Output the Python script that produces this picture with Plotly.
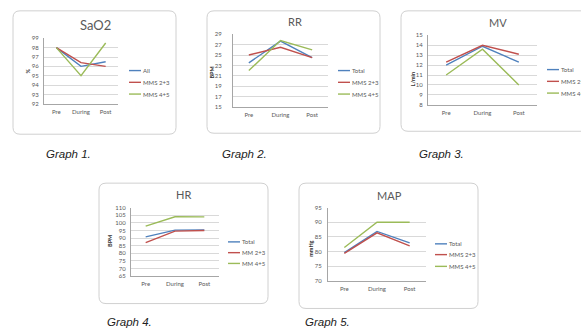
import plotly.graph_objects as go

W, H = 581, 333

# ---- data ----
phases = ["Pre", "During", "Post"]

sao2_all = [98, 96, 96.5]
sao2_mms23 = [98, 96.4, 96]
sao2_mms45 = [98, 95, 98.5]

rr_total = [23.5, 27.7, 24.5]
rr_mms23 = [25, 26.5, 24.5]
rr_mms45 = [22, 27.8, 26]

mv_total = [12, 13.9, 12.3]
mv_mms23 = [12.3, 14, 13.1]
mv_mms45 = [11, 13.6, 10]

hr_total = [90.8, 95.2, 95.4]
hr_mm23 = [87, 94.6, 95]
hr_mm45 = [97.8, 104, 103.9]

map_total = [79.7, 86.9, 83]
map_mms23 = [79.4, 86.4, 82]
map_mms45 = [81.4, 90, 90]

BLUE, RED, GREEN = "#4F81BD", "#C0504D", "#9BBB59"
GREY = "#595959"
FONT = "Lato, 'Open Sans', sans-serif"

# one entry per panel
panels = [
    dict(title="SaO2", ytitle="%", series=[("All", sao2_all), ("MMS 2+3", sao2_mms23), ("MMS 4+5", sao2_mms45)],
         yr=(92, 99), dt=1, plot=(44, 118, 35, 102), box=(13, 176, 7, 133), gap=3,
         ttl=(95, 21, 13), yt=(28, 69), leg=(129, [68, 80, 92]), cap=(44, 153, "Graph 1.")),
    dict(title="RR", ytitle="BPM", series=[("Total", rr_total), ("MMS 2+3", rr_mms23), ("MMS 4+5", rr_mms45)],
         yr=(15, 29), dt=2, plot=(233, 328, 31, 105), box=(207, 380, 7, 132), gap=9,
         ttl=(295, 18, 11), yt=(212, 70), leg=(338, [68, 80, 92]), cap=(220, 153, "Graph 2.")),
    dict(title="MV", ytitle="L/min", series=[("Total", mv_total), ("MMS 2+3", mv_mms23), ("MMS 4+5", mv_mms45)],
         yr=(8, 15), dt=1, plot=(428, 537, 32, 103), box=(401, 620, 7, 130), gap=3,
         ttl=(498, 19, 11), yt=(413, 77), leg=(547, [67, 79, 91]), cap=(417, 153, "Graph 3.")),
    dict(title="HR", ytitle="BPM", series=[("Total", hr_total), ("MM 2+3", hr_mm23), ("MM 4+5", hr_mm45)],
         yr=(65, 110), dt=5, plot=(131, 219, 208, 278), box=(99, 268, 183, 306), gap=3,
         ttl=(183, 195, 11), yt=(110, 242), leg=(228, [243, 254, 265]), cap=(105, 325, "Graph 4.")),
    dict(title="MAP", ytitle="mmHg", series=[("Total", map_total), ("MMS 2+3", map_mms23), ("MMS 4+5", map_mms45)],
         yr=(70, 95), dt=5, plot=(328, 426, 208, 283), box=(299, 478, 183, 311), gap=4,
         ttl=(389, 196, 11), yt=(311, 250), leg=(435, [245, 256, 268]), cap=(303, 325, "Graph 5.")),
]
colors = [BLUE, RED, GREEN]


def px(x):
    return x / W


def py(y):
    return 1 - y / H


def rounded_box(x0, x1, y0, y1, r=7):
    # rounded rectangle path in paper coordinates
    X0, X1, Y0, Y1 = px(x0), px(x1), py(y0), py(y1)
    rx, ry = r / W, r / H
    return (f"M{X0+rx},{Y0} L{X1-rx},{Y0} Q{X1},{Y0} {X1},{Y0-ry} "
            f"L{X1},{Y1+ry} Q{X1},{Y1} {X1-rx},{Y1} L{X0+rx},{Y1} "
            f"Q{X0},{Y1} {X0},{Y1+ry} L{X0},{Y0-ry} Q{X0},{Y0} {X0+rx},{Y0} Z")


fig = go.Figure()
shapes, annotations = [], []
layout_axes = {}

for i, p in enumerate(panels, start=1):
    xa = "x" if i == 1 else f"x{i}"
    ya = "y" if i == 1 else f"y{i}"
    xkey = "xaxis" if i == 1 else f"xaxis{i}"
    ykey = "yaxis" if i == 1 else f"yaxis{i}"
    l, r, t, b = p["plot"]

    # panel frame
    bx0, bx1, by0, by1 = p["box"]
    shapes.append(dict(type="path", path=rounded_box(bx0, bx1, by0, by1), xref="paper", yref="paper",
                       line=dict(color="#D0D0D0", width=1), fillcolor="white", layer="below"))

    for (name, vals), c in zip(p["series"], colors):
        fig.add_trace(go.Scatter(x=phases, y=vals, mode="lines", name=name, xaxis=xa, yaxis=ya,
                                 line=dict(color=c, width=1.4), showlegend=False))

    layout_axes[xkey] = dict(domain=[px(l), px(r)], anchor=ya, type="category", range=[-0.5, 2.5],
                             showgrid=False, showline=True, linecolor="#A6A6A6", linewidth=1,
                             ticks="", tickfont=dict(size=6, color=GREY, family=FONT),
                             ticklabelstandoff=2, fixedrange=True)
    layout_axes[ykey] = dict(domain=[py(b), py(t)], anchor=xa, range=list(p["yr"]), dtick=p["dt"],
                             tick0=p["yr"][0], showgrid=True, gridcolor="#D9D9D9", gridwidth=1,
                             showline=True, linecolor="#A6A6A6", linewidth=1, zeroline=False,
                             ticks="", tickfont=dict(size=6, color=GREY, family=FONT),
                             ticklabelstandoff=p["gap"], fixedrange=True)

    # chart title
    tx, ty, ts = p["ttl"]
    annotations.append(dict(text=p["title"], x=px(tx), y=py(ty), xref="paper", yref="paper",
                            showarrow=False, xanchor="center", yanchor="middle",
                            font=dict(size=ts, color=GREY, family=FONT)))
    # y-axis title
    ax_, ay_ = p["yt"]
    annotations.append(dict(text=f"<b>{p['ytitle']}</b>", x=px(ax_), y=py(ay_), xref="paper", yref="paper",
                            showarrow=False, textangle=-90, xanchor="center", yanchor="middle",
                            font=dict(size=5.5, color="#333333", family=FONT)))
    # legend
    lx, lys = p["leg"]
    for (name, _), c, ly in zip(p["series"], colors, lys):
        shapes.append(dict(type="line", xref="paper", yref="paper", x0=px(lx), x1=px(lx + 12),
                           y0=py(ly), y1=py(ly), line=dict(color=c, width=1.4)))
        annotations.append(dict(text=name, x=px(lx + 12), y=py(ly), xref="paper", yref="paper",
                                showarrow=False, xanchor="left", yanchor="middle",
                                font=dict(size=6, color=GREY, family=FONT)))
    # caption
    cx, cy, ct = p["cap"]
    annotations.append(dict(text=f"<i>{ct}</i>", x=px(cx), y=py(cy), xref="paper", yref="paper",
                            showarrow=False, xanchor="left", yanchor="middle",
                            font=dict(size=11.5, color="#222222", family="Liberation Sans, Arial, sans-serif")))

fig.update_layout(width=W, height=H, autosize=False, margin=dict(l=0, r=0, t=0, b=0),
                  paper_bgcolor="white", plot_bgcolor="rgba(0,0,0,0)",
                  shapes=shapes, annotations=annotations, showlegend=False, **layout_axes)

fig.write_html("out.html", config={"displayModeBar": False})
